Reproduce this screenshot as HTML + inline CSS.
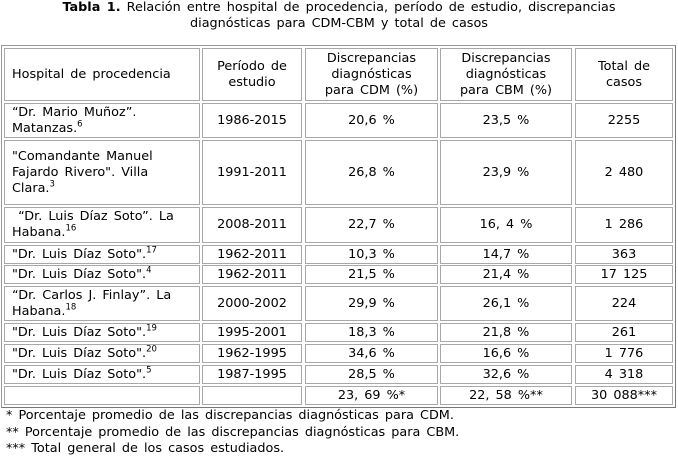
<!DOCTYPE html>
<html><head><meta charset="utf-8"><style>
body{margin:0;width:678px;height:458px;background:#fff;position:relative;font-family:"DejaVu Sans","Liberation Sans",sans-serif;font-size:12.8px;color:#000;overflow:hidden}
.t{position:absolute;white-space:nowrap}
.c{position:absolute;border:1px solid #a8a8a8;box-sizing:border-box;display:flex;align-items:center;justify-content:center;text-align:center;line-height:16px;word-spacing:2px;white-space:nowrap}
.l{justify-content:flex-start;text-align:left;padding-left:7px}
sup{font-size:8.5px;line-height:0;vertical-align:super}
#outer{position:absolute;left:1px;top:45px;width:675px;height:363px;border:1px solid #999;border-right-color:#777;border-bottom-color:#777;box-sizing:border-box}
</style></head><body>
<div class="t" style="left:0;width:678px;text-align:center;top:0;line-height:16px;word-spacing:2px"><b>Tabla 1.</b> Relación entre hospital de procedencia, período de estudio, discrepancias<br>diagnósticas para CDM-CBM y total de casos</div>
<div id="outer"></div>
<div class="c l" style="left:4px;top:48px;width:196px;height:53px"><span>Hospital de procedencia</span></div>
<div class="c" style="left:202px;top:48px;width:100px;height:53px"><span>Período de<br>estudio</span></div>
<div class="c" style="left:305px;top:48px;width:133px;height:53px"><span>Discrepancias<br>diagnósticas<br>para CDM (%)</span></div>
<div class="c" style="left:440px;top:48px;width:132px;height:53px"><span>Discrepancias<br>diagnósticas<br>para CBM (%)</span></div>
<div class="c" style="left:575px;top:48px;width:98px;height:53px"><span>Total de<br>casos</span></div>

<div class="c l" style="left:4px;top:103px;width:196px;height:35px"><span>“Dr. Mario Muñoz”.<br>Matanzas.<sup>6</sup></span></div>
<div class="c" style="left:202px;top:103px;width:100px;height:35px"><span>1986-2015</span></div>
<div class="c" style="left:305px;top:103px;width:133px;height:35px"><span>20,6 %</span></div>
<div class="c" style="left:440px;top:103px;width:132px;height:35px"><span>23,5 %</span></div>
<div class="c" style="left:575px;top:103px;width:98px;height:35px"><span>2255</span></div>

<div class="c l" style="left:4px;top:140px;width:196px;height:65px"><span>"Comandante Manuel<br>Fajardo Rivero". Villa<br>Clara.<sup>3</sup></span></div>
<div class="c" style="left:202px;top:140px;width:100px;height:65px"><span>1991-2011</span></div>
<div class="c" style="left:305px;top:140px;width:133px;height:65px"><span>26,8 %</span></div>
<div class="c" style="left:440px;top:140px;width:132px;height:65px"><span>23,9 %</span></div>
<div class="c" style="left:575px;top:140px;width:98px;height:65px"><span>2 480</span></div>

<div class="c l" style="left:4px;top:207px;width:196px;height:36px"><span>&nbsp;“Dr. Luis Díaz Soto”. La<br>Habana.<sup>16</sup></span></div>
<div class="c" style="left:202px;top:207px;width:100px;height:36px"><span>2008-2011</span></div>
<div class="c" style="left:305px;top:207px;width:133px;height:36px"><span>22,7 %</span></div>
<div class="c" style="left:440px;top:207px;width:132px;height:36px"><span>16, 4 %</span></div>
<div class="c" style="left:575px;top:207px;width:98px;height:36px"><span>1 286</span></div>

<div class="c l" style="left:4px;top:245px;width:196px;height:19px"><span>"Dr. Luis Díaz Soto".<sup>17</sup></span></div>
<div class="c" style="left:202px;top:245px;width:100px;height:19px"><span>1962-2011</span></div>
<div class="c" style="left:305px;top:245px;width:133px;height:19px"><span>10,3 %</span></div>
<div class="c" style="left:440px;top:245px;width:132px;height:19px"><span>14,7 %</span></div>
<div class="c" style="left:575px;top:245px;width:98px;height:19px"><span>363</span></div>

<div class="c l" style="left:4px;top:265px;width:196px;height:19px"><span>"Dr. Luis Díaz Soto".<sup>4</sup></span></div>
<div class="c" style="left:202px;top:265px;width:100px;height:19px"><span>1962-2011</span></div>
<div class="c" style="left:305px;top:265px;width:133px;height:19px"><span>21,5 %</span></div>
<div class="c" style="left:440px;top:265px;width:132px;height:19px"><span>21,4 %</span></div>
<div class="c" style="left:575px;top:265px;width:98px;height:19px"><span>17 125</span></div>

<div class="c l" style="left:4px;top:286px;width:196px;height:35px"><span>“Dr. Carlos J. Finlay”. La<br>Habana.<sup>18</sup></span></div>
<div class="c" style="left:202px;top:286px;width:100px;height:35px"><span>2000-2002</span></div>
<div class="c" style="left:305px;top:286px;width:133px;height:35px"><span>29,9 %</span></div>
<div class="c" style="left:440px;top:286px;width:132px;height:35px"><span>26,1 %</span></div>
<div class="c" style="left:575px;top:286px;width:98px;height:35px"><span>224</span></div>

<div class="c l" style="left:4px;top:323px;width:196px;height:19px"><span>"Dr. Luis Díaz Soto".<sup>19</sup></span></div>
<div class="c" style="left:202px;top:323px;width:100px;height:19px"><span>1995-2001</span></div>
<div class="c" style="left:305px;top:323px;width:133px;height:19px"><span>18,3 %</span></div>
<div class="c" style="left:440px;top:323px;width:132px;height:19px"><span>21,8 %</span></div>
<div class="c" style="left:575px;top:323px;width:98px;height:19px"><span>261</span></div>

<div class="c l" style="left:4px;top:344px;width:196px;height:19px"><span>"Dr. Luis Díaz Soto".<sup>20</sup></span></div>
<div class="c" style="left:202px;top:344px;width:100px;height:19px"><span>1962-1995</span></div>
<div class="c" style="left:305px;top:344px;width:133px;height:19px"><span>34,6 %</span></div>
<div class="c" style="left:440px;top:344px;width:132px;height:19px"><span>16,6 %</span></div>
<div class="c" style="left:575px;top:344px;width:98px;height:19px"><span>1 776</span></div>

<div class="c l" style="left:4px;top:365px;width:196px;height:19px"><span>"Dr. Luis Díaz Soto".<sup>5</sup></span></div>
<div class="c" style="left:202px;top:365px;width:100px;height:19px"><span>1987-1995</span></div>
<div class="c" style="left:305px;top:365px;width:133px;height:19px"><span>28,5 %</span></div>
<div class="c" style="left:440px;top:365px;width:132px;height:19px"><span>32,6 %</span></div>
<div class="c" style="left:575px;top:365px;width:98px;height:19px"><span>4 318</span></div>

<div class="c l" style="left:4px;top:386px;width:196px;height:19px"></div>
<div class="c" style="left:202px;top:386px;width:100px;height:19px"></div>
<div class="c" style="left:305px;top:386px;width:133px;height:19px"><span>23, 69 %*</span></div>
<div class="c" style="left:440px;top:386px;width:132px;height:19px"><span>22, 58 %**</span></div>
<div class="c" style="left:575px;top:386px;width:98px;height:19px"><span>30 088***</span></div>

<div class="t" style="left:6px;top:408px;line-height:16.5px;word-spacing:2px">* Porcentaje promedio de las discrepancias diagnósticas para CDM.<br>** Porcentaje promedio de las discrepancias diagnósticas para CBM.<br>*** Total general de los casos estudiados.</div>
</body></html>
